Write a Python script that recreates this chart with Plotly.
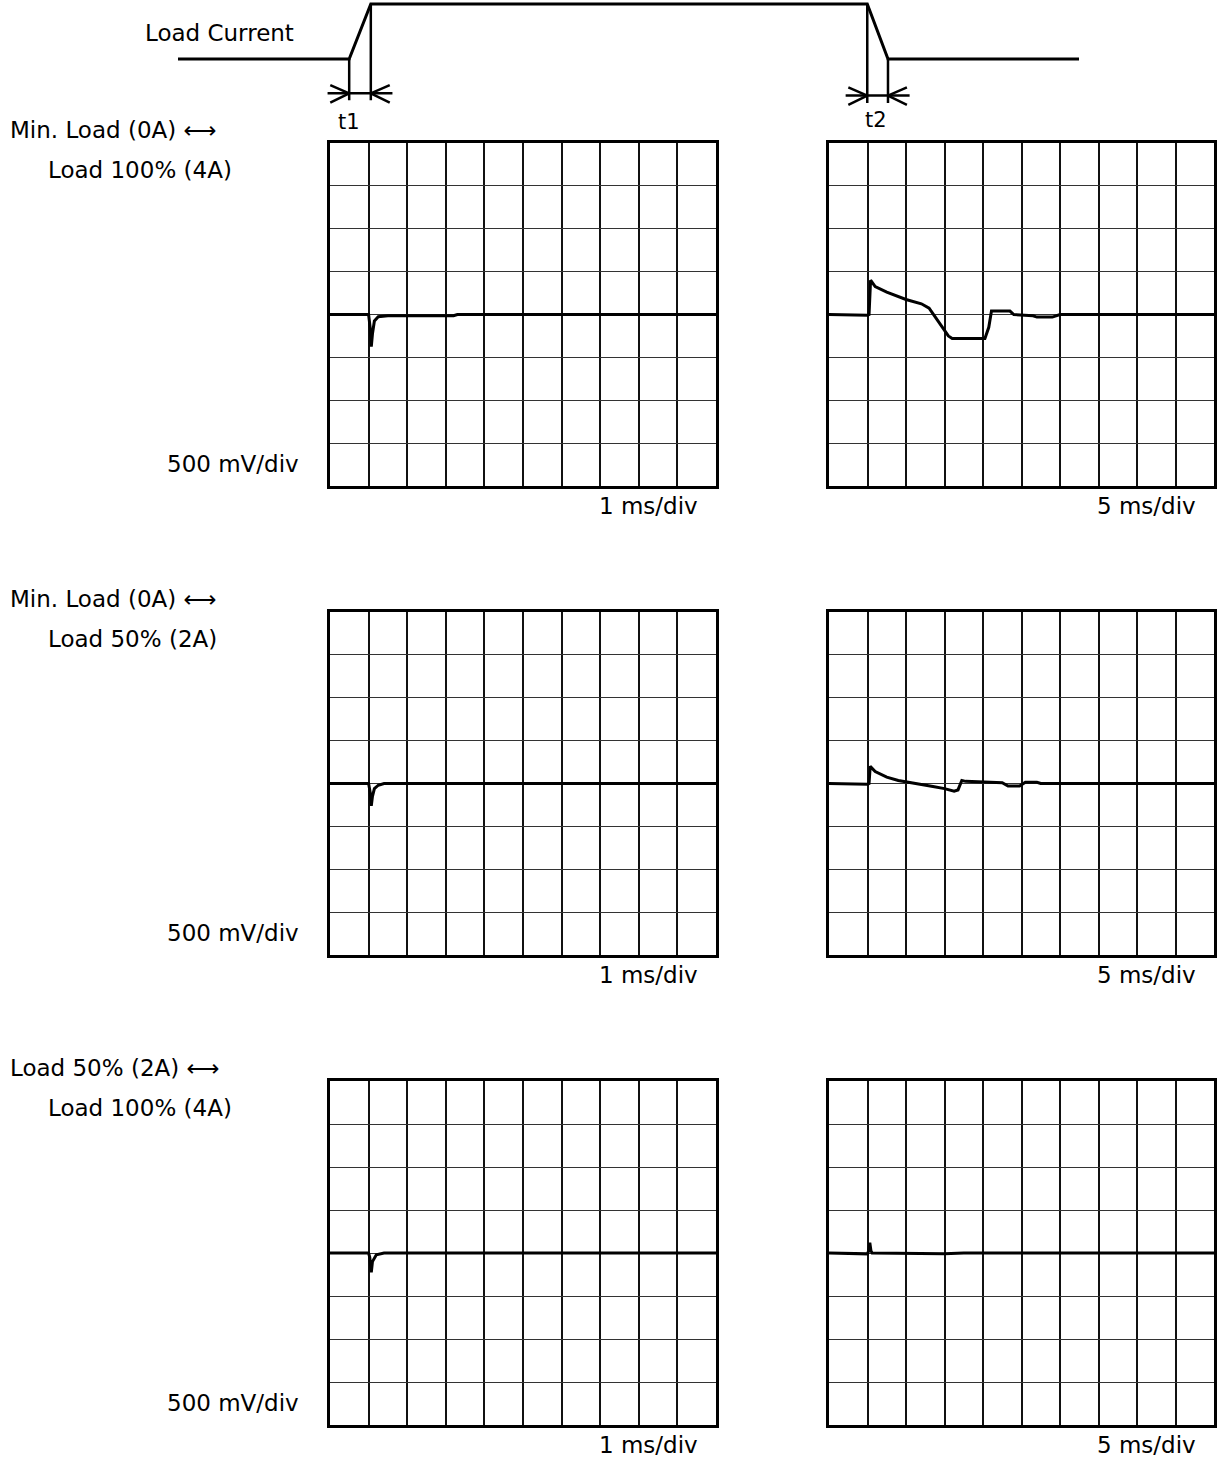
import plotly.graph_objects as go

W, H = 1217, 1460
FONT = "DejaVu Sans"

# ---------------- data ----------------
# Load-current schematic: time in arbitrary units (0-100), level 0 = low, 1 = high
load_t = [0, 19, 21.4, 76.5, 78.8, 100]
load_level = [0, 0, 1, 1, 0, 0]
t1_edges = [19, 21.4]      # rise edge (start, end)
t2_edges = [76.5, 78.8]    # fall edge (start, end)

# Oscilloscope traces: x in divisions (0-10), y in divisions (0 = baseline, 500 mV/div)
r1_fast_x = [0, 1.0, 1.04, 1.07, 1.1, 1.15, 1.25, 1.5, 3.2, 3.3, 10]
r1_fast_y = [0, 0, -0.3, -0.75, -0.45, -0.15, -0.05, -0.03, -0.03, 0, 0]

r1_slow_x = [0, 1.0, 1.04, 1.08, 1.2, 1.5, 2.0, 2.4, 2.6, 3.1, 3.2, 4.05, 4.15, 4.22, 4.7, 4.8,
             5.3, 5.4, 5.8, 6.0, 10]
r1_slow_y = [0, -0.02, 0, 0.80, 0.65, 0.52, 0.35, 0.25, 0.15, -0.5, -0.56, -0.56, -0.3, 0.08, 0.08, 0.0,
             -0.03, -0.06, -0.06, 0, 0]

r2_fast_x = [0, 1.0, 1.04, 1.07, 1.1, 1.15, 1.25, 1.4, 10]
r2_fast_y = [0, 0, -0.2, -0.52, -0.3, -0.12, -0.04, 0, 0]

r2_slow_x = [0, 1.0, 1.04, 1.07, 1.2, 1.5, 1.8, 2.3, 2.7, 3.0, 3.25, 3.35, 3.45, 3.55, 4.5, 4.65,
             4.95, 5.1, 5.4, 5.5, 10]
r2_slow_y = [0, -0.02, 0, 0.40, 0.28, 0.15, 0.07, 0.0, -0.07, -0.12, -0.18, -0.15, 0.07, 0.05, 0.02,
             -0.06, -0.06, 0.03, 0.03, 0, 0]

r3_fast_x = [0, 1.0, 1.03, 1.07, 1.1, 1.2, 1.4, 10]
r3_fast_y = [0, 0, -0.1, -0.45, -0.2, -0.04, 0, 0]

r3_slow_x = [0, 1.0, 1.03, 1.06, 1.09, 1.12, 3.0, 3.5, 10]
r3_slow_y = [0, -0.02, 0.05, 0.24, 0.05, 0, -0.02, 0, 0]

panels = [
    (r1_fast_x, r1_fast_y), (r1_slow_x, r1_slow_y),
    (r2_fast_x, r2_fast_y), (r2_slow_x, r2_slow_y),
    (r3_fast_x, r3_fast_y), (r3_slow_x, r3_slow_y),
]

row_labels = [
    ("Min. Load (0A) ⟷", "Load 100% (4A)"),
    ("Min. Load (0A) ⟷", "Load 50% (2A)"),
    ("Load 50% (2A) ⟷", "Load 100% (4A)"),
]
volt_label = "500 mV/div"
time_labels = ["1 ms/div", "5 ms/div"]

# ---------------- layout geometry (pixels) ----------------
col_px = [(330, 716), (829, 1214)]
row_px = [(143, 486), (612, 955), (1081, 1425)]

def px_x(p):
    return p / W

def px_y(p):
    return 1 - p / H

fig = go.Figure()
layout = dict(
    width=W, height=H, margin=dict(l=0, r=0, t=0, b=0),
    paper_bgcolor="white", plot_bgcolor="white", showlegend=False,
    font=dict(family=FONT, size=23, color="black"),
)

annotations = []
k = 0
for r, (ytop, ybot) in enumerate(row_px):
    for c, (xl, xr) in enumerate(col_px):
        k += 1
        xs, ys = panels[k - 1]
        fig.add_trace(go.Scatter(x=xs, y=ys, mode="lines",
                                 line=dict(color="black", width=3),
                                 xaxis=f"x{k}", yaxis=f"y{k}", hoverinfo="skip"))
        layout[f"xaxis{k}"] = dict(domain=[px_x(xl), px_x(xr)], anchor=f"y{k}", range=[0, 10],
                                   dtick=1, tick0=0, showgrid=True, gridcolor="#111", gridwidth=1.5,
                                   showticklabels=False, ticks="", zeroline=False,
                                   showline=True, mirror=True, linecolor="black", linewidth=3,
                                   fixedrange=True)
        layout[f"yaxis{k}"] = dict(domain=[px_y(ybot), px_y(ytop)], anchor=f"x{k}", range=[-4, 4],
                                   dtick=1, tick0=0, showgrid=True, gridcolor="#333", gridwidth=1.2,
                                   showticklabels=False, ticks="", zeroline=False,
                                   showline=True, mirror=True, linecolor="black", linewidth=3,
                                   fixedrange=True)
        # time/div label below panel
        annotations.append(dict(text=time_labels[c], xref="paper", yref="paper",
                                x=px_x(xr - 16), y=px_y(ybot + 20), xanchor="right", yanchor="middle",
                                showarrow=False, font=dict(size=23)))
    # row labels
    l1, l2 = row_labels[r]
    annotations.append(dict(text=l1, xref="paper", yref="paper", x=px_x(8), y=px_y(ytop - 13),
                            xanchor="left", yanchor="middle", showarrow=False, font=dict(size=23)))
    annotations.append(dict(text=l2, xref="paper", yref="paper", x=px_x(46), y=px_y(ytop + 27),
                            xanchor="left", yanchor="middle", showarrow=False, font=dict(size=23)))
    annotations.append(dict(text=volt_label, xref="paper", yref="paper", x=px_x(301), y=px_y(ybot - 22),
                            xanchor="right", yanchor="middle", showarrow=False, font=dict(size=23)))

# ---------------- load current schematic ----------------
DIAG = 7
layout[f"xaxis{DIAG}"] = dict(domain=[px_x(178), px_x(1079)], anchor=f"y{DIAG}", range=[0, 100],
                              visible=False, fixedrange=True)
layout[f"yaxis{DIAG}"] = dict(domain=[px_y(140), 1], anchor=f"x{DIAG}", range=[-81 / 55, 59 / 55],
                              visible=False, fixedrange=True)

fig.add_trace(go.Scatter(x=load_t, y=load_level, mode="lines", line=dict(color="black", width=3),
                         xaxis=f"x{DIAG}", yaxis=f"y{DIAG}", hoverinfo="skip"))

def dimension(edges, dim_y, bottom, name_lbl, lbl_t, lbl_y):
    a, b = edges
    xs, ys = [], []
    # extension lines from the waveform corners downwards
    for e in (a, b):
        xs += [e, e, None]
        ys += [load_level[load_t.index(e)], bottom, None]
    # dimension line
    xs += [a - 2.4, b + 2.4, None]
    ys += [dim_y, dim_y, None]
    # arrowheads pointing inward
    for e, s in ((a, -1), (b, 1)):
        xs += [e + s * 2.1, e, e + s * 2.1, None]
        ys += [dim_y + 0.15, dim_y, dim_y - 0.17, None]
    fig.add_trace(go.Scatter(x=xs, y=ys, mode="lines", line=dict(color="black", width=2.5),
                             xaxis=f"x{DIAG}", yaxis=f"y{DIAG}", hoverinfo="skip"))
    annotations.append(dict(text=name_lbl, xref=f"x{DIAG}", yref=f"y{DIAG}", x=lbl_t, y=lbl_y,
                            xanchor="center", yanchor="middle", showarrow=False, font=dict(size=21)))

dimension(t1_edges, -0.625, -0.75, "t1", 19.0, -1.14)
dimension(t2_edges, -0.665, -0.8, "t2", 77.5, -1.1)

annotations.append(dict(text="Load Current", xref="paper", yref="paper", x=px_x(143), y=px_y(33),
                        xanchor="left", yanchor="middle", showarrow=False, font=dict(size=23)))

layout["annotations"] = annotations
fig.update_layout(**layout)
fig.write_html("out.html", config={"displayModeBar": False},
               post_script="document.body.style.margin='0';document.body.style.overflow='hidden';")
